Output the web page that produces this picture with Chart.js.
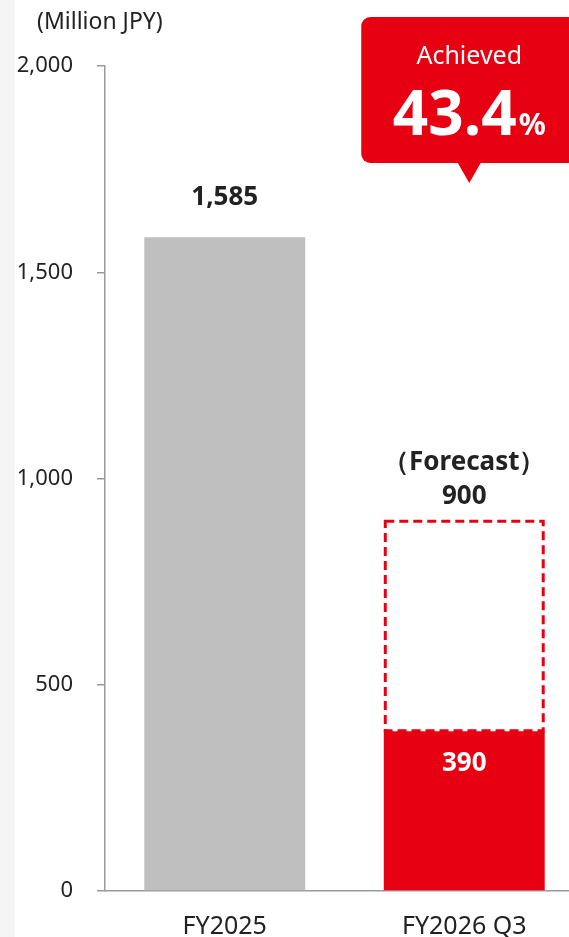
<!DOCTYPE html>
<html>
<head>
<meta charset="utf-8">
<script src="https://cdn.jsdelivr.net/npm/chart.js@4"></script>
<style>
  html, body { margin: 0; padding: 0; overflow: hidden; }
  body { width: 569px; height: 937px; background: linear-gradient(to right, #f5f5f5 15px, #fff 15px); }
  #wrap { position: absolute; left: 0; top: 0; width: 588px; height: 937px; }
</style>
</head>
<body>
<div id="wrap"><canvas id="salesChart"></canvas></div>
<script>
const categories = ["FY2025", "FY2026 Q3"];
const actual = [1585, 390];
const forecast = [null, 900];
const yTicks = [0, 500, 1000, 1500, 2000];
const achievedPct = "43.4";

const RED = "#e60012";
const GRAY = "#bfbfbf";
const FONT = "'Noto Sans', 'DejaVu Sans', sans-serif";

// value labels, dashed forecast outline and the "Achieved" callout
const overlay = {
  id: "overlay",
  afterDatasetsDraw(chart) {
    const ctx = chart.ctx;
    const bars = chart.getDatasetMeta(0).data;
    const fc = chart.getDatasetMeta(1).data[1];
    ctx.save();

    // dashed outline for the forecast bar
    const fl = fc.x - fc.width / 2, fr = fc.x + fc.width / 2;
    ctx.strokeStyle = "#fff";
    ctx.lineWidth = 2;
    ctx.beginPath();
    ctx.moveTo(fl, fc.base); ctx.lineTo(fr, fc.base);
    ctx.stroke();
    ctx.strokeStyle = RED;
    ctx.lineWidth = 3;
    ctx.setLineDash([9, 5]);
    ctx.strokeRect(fl + 1.5, fc.y + 1.5, fc.width - 3, fc.base - fc.y - 1);
    ctx.setLineDash([]);

    ctx.textAlign = "center";
    ctx.textBaseline = "middle";
    ctx.font = "bold 26px " + FONT;
    ctx.fillStyle = "#222";
    ctx.fillText(actual[0].toLocaleString("en-US"), bars[0].x, bars[0].y - 40);
    ctx.fillText("（Forecast）", fc.x, fc.y - 57);
    ctx.fillText(forecast[1].toLocaleString("en-US"), fc.x, fc.y - 23);
    ctx.fillStyle = "#fff";
    ctx.fillText(actual[1].toLocaleString("en-US"), bars[1].x, bars[1].y + 33);

    // callout
    const cx = fc.x + 5;
    const bx = cx - 108, bw = 216, by = 17, bh = 146;
    ctx.fillStyle = RED;
    ctx.beginPath();
    ctx.roundRect(bx, by, bw, bh, 9);
    ctx.fill();
    ctx.beginPath();
    ctx.moveTo(cx - 12, by + bh - 1);
    ctx.lineTo(cx + 12, by + bh - 1);
    ctx.lineTo(cx, by + bh + 20);
    ctx.closePath();
    ctx.fill();

    ctx.fillStyle = "#fff";
    ctx.font = "25px " + FONT;
    ctx.fillText("Achieved", cx, 57);
    ctx.font = "bold 62px " + FONT;
    const numW = ctx.measureText(achievedPct).width;
    ctx.font = "bold 30px " + FONT;
    const pctW = ctx.measureText("%").width;
    const start = cx - (numW + pctW + 2) / 2;
    ctx.textAlign = "left";
    ctx.textBaseline = "alphabetic";
    ctx.font = "bold 62px " + FONT;
    ctx.fillText(achievedPct, start, 135);
    ctx.font = "bold 30px " + FONT;
    ctx.fillText("%", start + numW + 2, 135);

    // unit
    ctx.fillStyle = "#222";
    ctx.font = "23px " + FONT;
    ctx.textAlign = "left";
    ctx.textBaseline = "middle";
    ctx.fillText("(Million JPY)", 37, 22);
    ctx.restore();
  }
};

new Chart(document.getElementById("salesChart"), {
  type: "bar",
  data: {
    labels: categories,
    datasets: [{
      label: "Actual",
      data: actual,
      backgroundColor: [GRAY, RED],
      barPercentage: 0.672,
      categoryPercentage: 1,
      grouped: false,
      order: 2
    }, {
      label: "Forecast",
      data: forecast.map((v, i) => v == null ? null : [actual[i], v]),
      backgroundColor: "rgba(0,0,0,0)",
      barPercentage: 0.672,
      categoryPercentage: 1,
      grouped: false,
      order: 1
    }]
  },
  options: {
    responsive: true,
    maintainAspectRatio: false,
    animation: false,
    layout: { padding: { top: 66, right: 4, left: 0, bottom: 0 } },
    plugins: { legend: { display: false }, tooltip: { enabled: false } },
    scales: {
      x: {
        grid: { display: false },
        border: { color: "#9a9a9a", width: 1.5 },
        ticks: { color: "#222", font: { family: FONT, size: 25 }, padding: 13 },
        afterFit(scale) { scale.height = 46; }
      },
      y: {
        min: 0,
        max: 2000,
        afterBuildTicks(scale) { scale.ticks = yTicks.map(v => ({ value: v })); },
        grid: { drawOnChartArea: false, drawTicks: true, tickLength: 8, color: "#9a9a9a", lineWidth: 1.5 },
        border: { color: "#9a9a9a", width: 1.5 },
        ticks: {
          color: "#222",
          font: { family: FONT, size: 22 },
          padding: 24,
          callback: v => v.toLocaleString("en-US")
        },
        afterFit(scale) { scale.width = 105; }
      }
    }
  },
  plugins: [overlay]
});
</script>
</body>
</html>
